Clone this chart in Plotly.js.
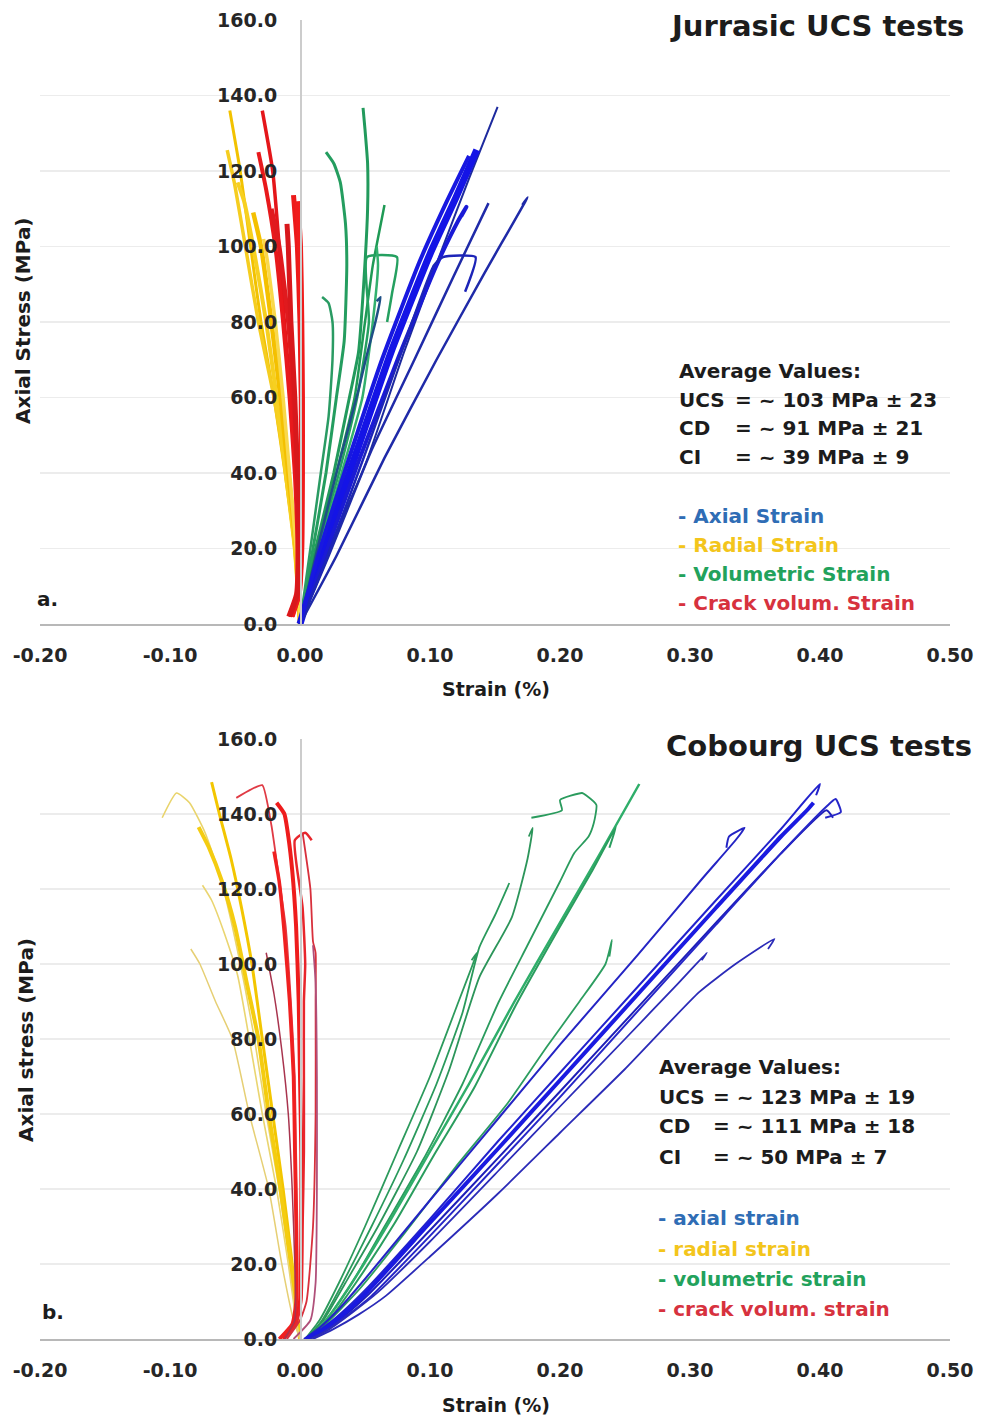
<!DOCTYPE html>
<html>
<head>
<meta charset="utf-8">
<script src="https://cdn.plot.ly/plotly-3.0.1.min.js"></script>
<style>
  html, body { margin: 0; padding: 0; background: #ffffff; }
  #chart { width: 984px; height: 1425px; }
</style>
</head>
<body>
<div id="chart"></div>
<script>
// ---------- axis ticks ----------
const strainTicks = [-0.2, -0.1, 0, 0.1, 0.2, 0.3, 0.4, 0.5];
const strainTickText = ['-0.20', '-0.10', '0.00', '0.10', '0.20', '0.30', '0.40', '0.50'];
const stressTicks = [0, 20, 40, 60, 80, 100, 120, 140, 160];
const stressTickText = ['0.0', '20.0', '40.0', '60.0', '80.0', '100.0', '120.0', '140.0', '160.0'];

// ---------- Jurassic specimens: strain (%) / axial stress (MPa) ----------
const jurAxialStrain = [
  [0, 0.02, 0.05, 0.08, 0.11, 0.13, 0.152],
  [0, 0.015, 0.04, 0.07, 0.10, 0.12, 0.136],
  [0, 0.018, 0.045, 0.075, 0.105, 0.122, 0.128, 0.124],
  [0, 0.022, 0.055, 0.088, 0.118, 0.145],
  [0, 0.028, 0.065, 0.105, 0.142, 0.175, 0.171],
  [0, 0.02, 0.05, 0.08, 0.103, 0.11, 0.135, 0.127],
  [0, 0.012, 0.028, 0.045, 0.051, 0.058, 0.062, 0.059],
  [0, 0.013, 0.035, 0.063, 0.092, 0.113, 0.13]
];
const jurAxialStress = [
  [0, 18, 42, 72, 100, 118, 137],
  [0, 17, 42, 72, 98, 113, 125.6],
  [0, 17, 43, 70, 95, 107, 110.5, 108],
  [0, 18, 46, 70, 92, 111.5],
  [0, 18, 44, 70, 93, 113, 111],
  [0, 17, 45, 74, 95, 97.2, 97.2, 88],
  [0, 18, 40, 62, 70.7, 80, 86.6, 85.5],
  [0, 17, 41, 70, 96, 112, 124]
];

const jurVolStrain = [
  [0, 0.012, 0.026, 0.038, 0.045, 0.049, 0.052, 0.052, 0.05, 0.0485],
  [0, 0.01, 0.02, 0.028, 0.034, 0.036, 0.035, 0.031, 0.026, 0.02],
  [0, 0.008, 0.016, 0.022, 0.025, 0.025, 0.022, 0.017],
  [0, 0.013, 0.028, 0.042, 0.05, 0.056, 0.061, 0.065],
  [0, 0.014, 0.03, 0.044, 0.053, 0.0515, 0.0746, 0.071, 0.067],
  [0, 0.015, 0.032, 0.048, 0.056, 0.06, 0.059]
];
const jurVolStress = [
  [0, 20, 40, 60, 72, 90, 110, 122, 131, 136.7],
  [0, 20, 40, 60, 75, 95, 106, 117, 122, 125],
  [0, 20, 40, 55, 70, 80, 85, 86.6],
  [0, 20, 40, 60, 80, 95, 104, 111],
  [0, 20, 40, 60, 80, 97.2, 97.2, 88, 80],
  [0, 20, 40, 60, 80, 95, 100]
];

const jurRadStrain = [
  [0, -0.004, -0.0115, -0.02, -0.03, -0.038, -0.046, -0.054],
  [0, -0.004, -0.011, -0.02, -0.032, -0.042, -0.05, -0.056],
  [0, -0.004, -0.011, -0.018, -0.026, -0.036, -0.043, -0.048],
  [0, -0.003, -0.009, -0.015, -0.022, -0.03, -0.036],
  [0, -0.003, -0.008, -0.013, -0.019, -0.025, -0.028]
];
const jurRadStress = [
  [0, 20, 40, 60, 80, 100, 120, 136],
  [0, 20, 40, 60, 80, 100, 116, 125.5],
  [0, 20, 40, 60, 80, 100, 112, 117],
  [0, 20, 40, 60, 80, 100, 109],
  [0, 20, 40, 60, 80, 96, 102]
];

const jurCrackStrain = [
  [-0.008, -0.002, -0.001, -0.003, -0.007, -0.012, -0.016, -0.021, -0.029],
  [-0.009, -0.003, -0.002, -0.004, -0.008, -0.013, -0.019, -0.026, -0.032],
  [-0.006, -0.001, 0.001, 0.001, 0.001, 0, -0.002, -0.005],
  [-0.008, -0.002, -0.001, -0.002, -0.005, -0.009, -0.016, -0.022],
  [-0.007, -0.001, 0.001, 0.0015, 0.0015, 0.001, 0, -0.002],
  [-0.008, -0.002, -0.001, -0.002, -0.004, -0.007, -0.009, -0.01]
];
const jurCrackStress = [
  [2, 8, 20, 40, 60, 80, 100, 120, 136],
  [2, 8, 20, 40, 60, 80, 100, 115, 125],
  [2, 8, 20, 40, 60, 80, 100, 113.6],
  [2, 8, 20, 40, 60, 80, 100, 110],
  [2, 8, 20, 40, 60, 80, 100, 112],
  [2, 8, 20, 40, 60, 80, 100, 106]
];

// ---------- Cobourg specimens: strain (%) / axial stress (MPa) ----------
const cobAxialStrain = [
  [0.003, 0.015, 0.03, 0.05, 0.1, 0.153, 0.2, 0.26, 0.31, 0.335, 0.342, 0.33, 0.328],
  [0.004, 0.016, 0.032, 0.05, 0.1, 0.153, 0.2, 0.26, 0.32, 0.37, 0.40, 0.397],
  [0.005, 0.018, 0.035, 0.053, 0.1, 0.153, 0.2, 0.26, 0.32, 0.37, 0.405, 0.41],
  [0.006, 0.02, 0.037, 0.055, 0.1, 0.153, 0.2, 0.26, 0.32, 0.37, 0.405, 0.412, 0.416, 0.404],
  [0.005, 0.017, 0.033, 0.05, 0.1, 0.153, 0.2, 0.26, 0.32, 0.37, 0.39, 0.395],
  [0.008, 0.022, 0.04, 0.06, 0.1, 0.153, 0.2, 0.25, 0.29, 0.313, 0.309],
  [0.01, 0.025, 0.045, 0.066, 0.1, 0.153, 0.2, 0.25, 0.307, 0.335, 0.365, 0.36]
];
const cobAxialStress = [
  [0, 3, 8, 16, 37, 59, 78.5, 102.5, 123, 133, 136.3, 134, 131],
  [0, 2.5, 7, 13, 32, 53, 71, 94, 117, 136, 148, 145],
  [0, 2.5, 6.5, 12, 29, 48.5, 66, 88.5, 111, 129.5, 141, 139],
  [0, 2.5, 6.5, 11.5, 27.5, 47, 64.5, 87.5, 110.5, 129.5, 142, 144, 140.5, 139],
  [0, 2.5, 6.5, 12, 31, 51, 69, 92, 115, 134, 141, 143],
  [0, 2.5, 7, 12.5, 26, 45, 62, 80, 94.5, 103, 101],
  [0, 2.5, 6.5, 11.5, 22, 39, 55, 72, 92.5, 100, 106.7, 104]
];

const cobVolStrain = [
  [0.004, 0.015, 0.03, 0.05, 0.075, 0.1, 0.122, 0.133, 0.136, 0.132],
  [0.005, 0.017, 0.033, 0.055, 0.08, 0.105, 0.125, 0.138, 0.15, 0.161],
  [0.005, 0.018, 0.035, 0.06, 0.09, 0.115, 0.138, 0.163, 0.175, 0.179, 0.176],
  [0.006, 0.02, 0.04, 0.065, 0.095, 0.125, 0.153, 0.175, 0.2, 0.211, 0.222, 0.226, 0.228, 0.22, 0.217, 0.2, 0.2015, 0.178],
  [0.006, 0.02, 0.04, 0.07, 0.1, 0.13, 0.165, 0.2, 0.23, 0.261],
  [0.007, 0.022, 0.043, 0.073, 0.103, 0.134, 0.166, 0.2, 0.225, 0.243, 0.238],
  [0.006, 0.02, 0.045, 0.08, 0.12, 0.16, 0.19, 0.215, 0.235, 0.24, 0.238]
];
const cobVolStress = [
  [0, 5, 15, 30, 50, 70, 90, 100, 103, 101],
  [0, 5, 15, 30, 48, 68, 87, 104.5, 113, 121.6],
  [0, 5, 15, 30, 50, 72, 96.5, 112.5, 128, 136.3, 134],
  [0, 5, 15, 30, 48, 68, 90, 105, 122, 129.6, 134, 137.6, 142.4, 145, 145.6, 143.7, 141, 139],
  [0, 5, 15, 32, 50, 68, 90, 111, 129, 148],
  [0, 5, 15, 31, 49, 67, 89, 110, 125, 136.5, 131],
  [0, 4, 13, 28, 46, 63, 78, 90, 100, 106.4, 102]
];

const cobRadStrain = [
  [0, -0.002, -0.008, -0.016, -0.026, -0.035, -0.043, -0.052, -0.062, -0.073, -0.085, -0.095, -0.106],
  [0, -0.002, -0.006, -0.013, -0.021, -0.029, -0.037, -0.045, -0.053, -0.062, -0.068],
  [0, -0.002, -0.007, -0.015, -0.024, -0.032, -0.041, -0.05, -0.06, -0.07, -0.078],
  [0, -0.003, -0.009, -0.018, -0.029, -0.039, -0.048, -0.058, -0.068, -0.075],
  [0, -0.005, -0.014, -0.024, -0.039, -0.052, -0.065, -0.077, -0.084]
];
const cobRadStress = [
  [0, 5, 20, 40, 60, 80, 95, 110, 124, 135, 143, 145.6, 139],
  [0, 5, 20, 40, 60, 80, 100, 115, 128, 140, 148.5],
  [0, 5, 20, 40, 60, 80, 95, 110, 122, 131, 136.5],
  [0, 5, 20, 40, 60, 80, 97, 108, 117, 121],
  [0, 5, 20, 40, 60, 80, 90, 100, 104]
];

const cobCrackStrain = [
  [-0.015, -0.005, -0.002, -0.002, -0.003, -0.004, -0.007, -0.011, -0.017, -0.022, -0.029, -0.038, -0.049],
  [-0.013, -0.004, 0, 0.001, 0.001, 0, -0.001, -0.003, -0.006, -0.009, -0.012, -0.018],
  [-0.012, -0.003, 0.001, 0.002, 0.003, 0.003, 0.003, 0.004, 0.002, -0.004, 0.004, 0.009],
  [-0.01, 0, 0.005, 0.01, 0.012, 0.012, 0.012, 0.01, 0.008, 0.002],
  [-0.005, 0.008, 0.012, 0.013, 0.013, 0.012, 0.01],
  [-0.016, -0.006, -0.003, -0.003, -0.004, -0.005, -0.008, -0.012, -0.016, -0.02],
  [-0.012, -0.004, -0.004, -0.006, -0.009, -0.014, -0.02, -0.026]
];
const cobCrackStress = [
  [0, 4, 10, 30, 50, 70, 90, 110, 125, 137, 147.7, 146.5, 144.3],
  [0, 4, 10, 30, 50, 70, 90, 110, 125, 134, 140, 143],
  [0, 4, 10, 30, 50, 70, 90, 100, 115, 133, 135, 133],
  [0, 5, 10, 30, 60, 90, 103, 106, 120, 135],
  [0, 5, 15, 40, 70, 95, 105],
  [0, 4, 10, 30, 50, 70, 90, 108, 122, 130],
  [0, 5, 20, 40, 60, 77, 92, 103]
];

// ---------- line styles per specimen ----------
const jurAxialStyle = [['#1d2a9e', 2], ['#1414e6', 7], ['#1a1ad6', 4], ['#1f2aa8', 2.5], ['#1f2aa8', 2.5], ['#1c24b8', 2.5], ['#1f4f86', 2.5], ['#1818e0', 4]];
const jurVolStyle = [['#229a5c', 3], ['#249d5f', 3], ['#2a9b63', 2.5], ['#1f9a55', 2.5], ['#25a060', 2.5], ['#33b06e', 2.5]];
const jurRadStyle = [['#f2c200', 3], ['#f5cd20', 3.5], ['#f7d020', 4], ['#f4c000', 4.5], ['#f9d84a', 3.5]];
const jurCrackStyle = [['#e4161a', 3.5], ['#e8191c', 4], ['#ec1a1a', 5], ['#e01a1e', 4.5], ['#f01c1c', 6], ['#d8181c', 5]];

const cobAxialStyle = [['#2424c4', 2], ['#2222cc', 2], ['#1e1eb8', 2], ['#2626c8', 2], ['#1a1ae0', 4], ['#2b2bb8', 1.8], ['#2b2bb8', 1.8]];
const cobVolStyle = [['#2c9a5c', 1.8], ['#2a9a5c', 1.8], ['#2c955a', 1.8], ['#2a9b5d', 1.8], ['#2fae6a', 2.5], ['#2a9d5e', 2], ['#2c9d60', 1.8]];
const cobRadStyle = [['#e9d46c', 1.6], ['#f3c600', 3], ['#f4cc10', 4], ['#ead570', 1.6], ['#e6cf74', 1.5]];
const cobCrackStyle = [['#e03a44', 1.8], ['#ee1c1c', 4], ['#e8262c', 2.5], ['#d8303c', 1.8], ['#b0507a', 1.8], ['#f02020', 3.5], ['#a8344e', 1.5]];

const traces = [];
function addSeries(xs, ys, styles, xa, ya) {
  xs.forEach(function (xv, i) {
    traces.push({
      type: 'scatter', mode: 'lines',
      x: xv, y: ys[i], xaxis: xa, yaxis: ya,
      line: { color: styles[i][0], width: styles[i][1], shape: 'spline', smoothing: 0.5 },
      hoverinfo: 'skip', showlegend: false
    });
  });
}

addSeries(jurRadStrain, jurRadStress, jurRadStyle, 'x', 'y');
addSeries(jurCrackStrain, jurCrackStress, jurCrackStyle, 'x', 'y');
addSeries(jurVolStrain, jurVolStress, jurVolStyle, 'x', 'y');
addSeries(jurAxialStrain, jurAxialStress, jurAxialStyle, 'x', 'y');

addSeries(cobRadStrain, cobRadStress, cobRadStyle, 'x2', 'y2');
addSeries(cobCrackStrain, cobCrackStress, cobCrackStyle, 'x2', 'y2');
addSeries(cobVolStrain, cobVolStress, cobVolStyle, 'x2', 'y2');
addSeries(cobAxialStrain, cobAxialStress, cobAxialStyle, 'x2', 'y2');

// ---------- layout ----------
const W = 984, H = 1425;
const M = { l: 40, r: 34, t: 20, b: 86 };
const plotW = W - M.l - M.r, plotH = H - M.t - M.b;
// pixel -> paper helpers for text placement
const px = function (v) { return (v - M.l) / plotW; };
const py = function (v) { return (H - M.b - v) / plotH; };

const FONT = 'DejaVu Sans, Verdana, sans-serif';
const tickFont = { family: FONT, size: 19, color: '#262626', weight: 'bold' };
const zeroX = (0 - strainTicks[0]) / (strainTicks[strainTicks.length - 1] - strainTicks[0]);

function xAxis(anchor) {
  return {
    anchor: anchor, domain: [0, 1], range: [-0.2, 0.5],
    tickmode: 'array', tickvals: strainTicks, ticktext: strainTickText,
    showgrid: false, zeroline: false, showline: true,
    linecolor: '#b8b8b8', linewidth: 2, ticks: '',
    tickfont: tickFont, ticklabelstandoff: 13, fixedrange: true
  };
}
function yAxis(domain) {
  return {
    anchor: 'free', position: zeroX, domain: domain, range: [0, 160],
    tickmode: 'array', tickvals: stressTicks, ticktext: stressTickText,
    showgrid: true, gridcolor: '#ececec', gridwidth: 1.5,
    zeroline: false, showline: true, linecolor: '#cccccc', linewidth: 1.5,
    ticks: '', tickfont: tickFont, ticklabelstandoff: 19, fixedrange: true
  };
}

function txt(text, x, y, opts) {
  const o = opts || {};
  return {
    text: text, xref: 'paper', yref: 'paper', x: px(x), y: py(y),
    xanchor: o.xanchor || 'left', yanchor: 'middle', showarrow: false,
    textangle: o.angle || 0,
    font: { family: FONT, size: o.size || 20, color: o.color || '#1c1c1c', weight: 'bold' }
  };
}

const C_AX = '#2f6db5', C_RAD = '#f3c51c', C_VOL = '#22a25c', C_CRK = '#d7323e';

const annotations = [
  // panel a
  txt('Jurrasic UCS tests', 966, 26, { xanchor: 'right', size: 29 }),
  txt('Average Values:', 677, 371),
  txt('UCS', 677, 400), txt('= ~ 103 MPa ± 23', 733, 400),
  txt('CD', 677, 428), txt('= ~ 91 MPa ± 21', 733, 428),
  txt('CI', 677, 457), txt('= ~ 39 MPa ± 9', 733, 457),
  txt('- Axial Strain', 676, 516, { color: C_AX }),
  txt('- Radial Strain', 676, 545, { color: C_RAD }),
  txt('- Volumetric Strain', 676, 574, { color: C_VOL }),
  txt('- Crack volum. Strain', 676, 603, { color: C_CRK }),
  txt('a.', 35, 599),
  txt('Strain (%)', 496, 689, { xanchor: 'center', size: 19 }),
  txt('Axial Stress (MPa)', 23, 321, { xanchor: 'center', angle: -90 }),
  // panel b
  txt('Cobourg UCS tests', 974, 746, { xanchor: 'right', size: 29 }),
  txt('Average Values:', 657, 1067),
  txt('UCS', 657, 1097), txt('= ~ 123 MPa ± 19', 711, 1097),
  txt('CD', 657, 1126), txt('= ~ 111 MPa ± 18', 711, 1126),
  txt('CI', 657, 1157), txt('= ~ 50 MPa ± 7', 711, 1157),
  txt('- axial strain', 656, 1218, { color: C_AX }),
  txt('- radial strain', 656, 1249, { color: C_RAD }),
  txt('- volumetric strain', 656, 1279, { color: C_VOL }),
  txt('- crack volum. strain', 656, 1309, { color: C_CRK }),
  txt('b.', 40, 1312),
  txt('Strain (%)', 496, 1405, { xanchor: 'center', size: 19 }),
  txt('Axial stress (MPa)', 26, 1040, { xanchor: 'center', angle: -90 })
];

const layout = {
  width: W, height: H, margin: M,
  paper_bgcolor: '#ffffff', plot_bgcolor: '#ffffff',
  showlegend: false,
  xaxis: xAxis('y'),
  yaxis: yAxis([py(624), py(20)]),
  xaxis2: xAxis('y2'),
  yaxis2: yAxis([py(1339), py(739)]),
  annotations: annotations
};

Plotly.newPlot('chart', traces, layout, { displayModeBar: false, staticPlot: true });
</script>
</body>
</html>
